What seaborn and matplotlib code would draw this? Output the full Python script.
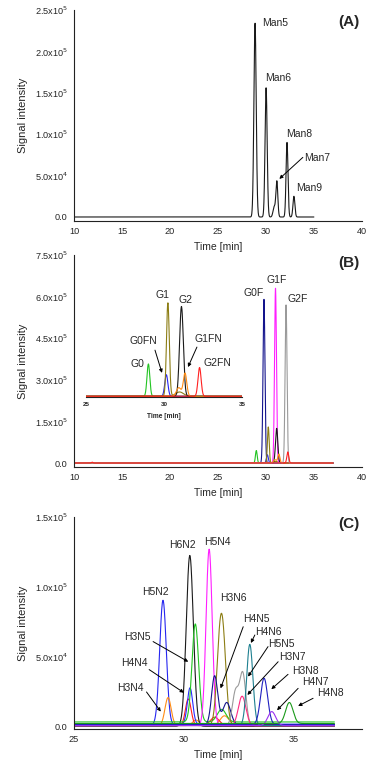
"""
Glycan chromatograms: (A) high-mannose, (B) IgG N-glycans with inset, (C) mixed N-glycans.
Peaks read off the original figure as retention time / height / width tables.
"""
import numpy as np
import pandas as pd
import matplotlib
matplotlib.use("Agg")
import matplotlib.pyplot as plt
import seaborn as sns
from matplotlib.ticker import MultipleLocator

# ─── Panel A: high-mannose (rt [min], height [1e5], sigma [min]) ───
A_rt = [28.87, 30.02, 30.86, 31.14, 32.2, 32.92]
A_height = [2.34, 1.56, 0.12, 0.43, 0.90, 0.25]
A_sigma = [0.12, 0.11, 0.12, 0.1, 0.1, 0.1]
A_span = (10, 35)
A_names = ["Man5", "Man6", "Man8", "Man7", "Man9"]

# ─── Panel B: IgG glycans, one trace per colour ───
B_trace = ["green", "navy", "blue", "olive", "olive", "magenta", "black",
           "orange", "orange", "grey", "red", "red"]
B_rt = [29.0, 29.8, 30.15, 30.25, 31.0, 31.0, 31.12, 30.95, 31.35, 32.1, 32.28, 11.9]
B_height = [0.45, 5.9, 0.30, 1.30, 0.06, 6.3, 1.25, 0.12, 0.32, 5.7, 0.40, 0.03]
B_sigma = [0.09, 0.1, 0.1, 0.09, 0.25, 0.1, 0.12, 0.15, 0.11, 0.1, 0.1, 0.08]
B_span = (10, 37)
B_inset_traces = ["green", "blue", "olive", "black", "orange", "red"]
B_names = ["G0F", "G1F", "G2F"]
B_inset_names = ["G1", "G2", "G0FN", "G0", "G1FN", "G2FN"]

# ─── Panel C: mixed N-glycans ───
C_trace = ["blue", "orange", "orange", "orange", "black", "red", "red", "blue2",
           "green", "green", "magenta", "olive", "olive", "navy", "navy",
           "grey", "grey", "pink", "teal", "blue3", "purple", "green2"]
C_rt = [29.05, 29.28, 30.55, 31.85, 30.27, 30.2, 31.4, 30.28,
        30.52, 31.72, 31.15, 31.62, 31.8, 31.4, 31.95,
        32.35, 32.68, 32.65, 33.0, 33.65, 34.0, 34.8]
C_height = [0.89, 0.20, 0.04, 0.07, 1.22, 0.19, 0.06, 0.26,
            0.70, 0.09, 1.26, 0.49, 0.49, 0.35, 0.16,
            0.24, 0.37, 0.21, 0.58, 0.33, 0.10, 0.15]
C_sigma = [0.15, 0.14, 0.15, 0.2, 0.16, 0.13, 0.2, 0.12,
           0.15, 0.2, 0.14, 0.14, 0.14, 0.14, 0.18,
           0.14, 0.14, 0.17, 0.14, 0.16, 0.18, 0.17]
C_baseline = {"blue": 0.015, "orange": 0.01, "black": 0.005, "red": 0.01,
              "blue2": 0.02, "green": 0.036, "magenta": 0.01, "olive": 0.015,
              "navy": 0.015, "grey": 0.01, "pink": 0.01, "teal": 0.01,
              "blue3": 0.018, "purple": 0.01, "green2": 0.025}
C_span = (25, 36.85)
C_names = ["H5N2", "H6N2", "H5N4", "H3N6", "H4N5", "H4N6", "H5N5", "H3N7",
           "H3N8", "H4N7", "H4N8", "H3N5", "H4N4", "H3N4"]

colors = {"black": "#1a1a1a", "green": "#22c422", "navy": "#14148c", "blue": "#2626f0",
          "olive": "#8c7d14", "magenta": "#ff1eff", "orange": "#ff8c14", "grey": "#9a9a9a",
          "red": "#ff2020", "blue2": "#2a2aff", "pink": "#ff2a80", "teal": "#1e8090",
          "blue3": "#2020c0", "purple": "#9a30f0", "green2": "#1a9a1a"}

LABEL_SIZE = 7.5
YLABEL_SIZE = 8


def build_traces(trace, rt, height, sigma, span, baseline=None, step=0.01):
    """Sum the peak table into one long-form frame of (trace, time, signal)."""
    t = np.arange(span[0], span[1] + step, step)
    frames = []
    for name in dict.fromkeys(trace):
        y = np.full_like(t, (baseline or {}).get(name, 0.0))
        for tr, r, h, s in zip(trace, rt, height, sigma):
            if tr == name:
                y = y + h * np.exp(-0.5 * ((t - r) / s) ** 2)
        frames.append(pd.DataFrame({"trace": name, "time": t, "signal": y * 1e5}))
    return pd.concat(frames, ignore_index=True)


def style_axes(ax, xlim, ylim, xmajor, ymajor, yticklabels):
    ax.set_xlim(*xlim)
    ax.set_ylim(*ylim)
    ax.xaxis.set_major_locator(MultipleLocator(xmajor))
    ax.xaxis.set_minor_locator(MultipleLocator(xmajor / 2))
    ticks = np.arange(0, ylim[1] + 1, ymajor)
    ax.set_yticks(ticks)
    ax.set_yticklabels(yticklabels)
    ax.yaxis.set_minor_locator(MultipleLocator(ymajor / 2))
    ax.tick_params(axis="both", which="major", length=3, width=0.7, pad=1.5, labelsize=6.6)
    ax.tick_params(axis="y", which="minor", length=1.8, width=0.6)
    ax.tick_params(axis="x", which="minor", direction="in", length=2, width=0.6)
    for side in ("top", "right"):
        ax.spines[side].set_visible(False)
    for side in ("left", "bottom"):
        ax.spines[side].set_linewidth(0.8)
        ax.spines[side].set_color("#222222")
    ax.set_xlabel("Time [min]", fontsize=7.5)
    ax.xaxis.set_label_coords(0.5, -0.1)
    ax.set_ylabel("Signal intensity", fontsize=YLABEL_SIZE)
    # right edge of the rotated label, so the centre sits near x = 22 px
    ax.yaxis.set_label_coords(-(52 - YLABEL_SIZE * 0.7) / 288, 0.5)
    ax.grid(False)


def arrow(ax, tail, head):
    ax.annotate("", xy=(head[0], head[1] * 1e5), xytext=(tail[0], tail[1] * 1e5),
                arrowprops=dict(arrowstyle="-|>", color="black", lw=0.7,
                                mutation_scale=5, shrinkA=0, shrinkB=0))


sns.set_theme(style="white")
plt.rcParams["font.family"] = ["Liberation Sans", "DejaVu Sans"]

fig = plt.figure(figsize=(3.7, 7.63), dpi=100)
axA = fig.add_axes([0.2, 0.7104, 0.778, 0.2765])
axB = fig.add_axes([0.2, 0.3879, 0.778, 0.2779])
axC = fig.add_axes([0.2, 0.04456, 0.778, 0.2779])
axI = fig.add_axes([0.2324, 0.4797, 0.4216, 0.1271])

# ─── Panel A ───
dfA = build_traces(["Man"] * len(A_rt), A_rt, A_height, A_sigma, A_span)
sns.lineplot(data=dfA, x="time", y="signal", color=colors["black"], lw=0.8,
             estimator=None, sort=False, legend=False, ax=axA)
style_axes(axA, (10, 40), (-0.048e5, 2.5e5), 5, 0.5e5,
           ["0.0", r"5.0x10$^4$", r"1.0x10$^5$", r"1.5x10$^5$", r"2.0x10$^5$", r"2.5x10$^5$"])
for name, x, y in zip(A_names, [29.6, 29.9, 32.1, 34.0, 33.2], [2.34, 1.68, 1.0, 0.71, 0.35]):
    axA.text(x, y * 1e5, name, fontsize=LABEL_SIZE, ha="left", va="center")
arrow(axA, (33.85, 0.72), (31.4, 0.46))
axA.text(0.955, 0.943, "(A)", transform=axA.transAxes, fontsize=11,
         fontweight="bold", ha="center", va="center")

# ─── Panel B ───
dfB = build_traces(B_trace, B_rt, B_height, B_sigma, B_span)
sns.lineplot(data=dfB, x="time", y="signal", hue="trace", palette=colors, lw=0.8,
             estimator=None, sort=False, legend=False, ax=axB)
style_axes(axB, (10, 40), (-0.144e5, 7.5e5), 5, 1.5e5,
           ["0.0", r"1.5x10$^5$", r"3.0x10$^5$", r"4.5x10$^5$", r"6.0x10$^5$", r"7.5x10$^5$"])
for name, x, y in zip(B_names, [28.75, 31.15, 33.3], [6.13, 6.6, 5.9]):
    axB.text(x, y * 1e5, name, fontsize=LABEL_SIZE, ha="center", va="center")
for name, x, y in zip(B_inset_names, [19.27, 21.67, 17.19, 16.56, 24.06, 24.9],
                      [6.06, 5.88, 4.40, 3.57, 4.47, 3.60]):
    axB.text(x, y * 1e5, name, fontsize=LABEL_SIZE, ha="center", va="center")
arrow(axB, (18.44, 4.07), (19.17, 3.25))
arrow(axB, (22.81, 4.18), (21.88, 3.46))
axB.text(0.955, 0.962, "(B)", transform=axB.transAxes, fontsize=11,
         fontweight="bold", ha="center", va="center")

# inset: minor glycans, 25-35 min
dfI = build_traces(B_trace, B_rt, B_height, B_sigma, (25, 35))
dfI = dfI[dfI["trace"].isin(B_inset_traces)]
sns.lineplot(data=dfI, x="time", y="signal", hue="trace", palette=colors, lw=0.8,
             estimator=None, sort=False, legend=False, ax=axI)
axI.set_xlim(25, 35)
axI.set_ylim(-0.01e5, 1.34e5)
axI.patch.set_alpha(0)
axI.set_yticks([])
axI.xaxis.set_major_locator(MultipleLocator(5))
axI.xaxis.set_minor_locator(MultipleLocator(2.5))
for side in ("top", "right", "left"):
    axI.spines[side].set_visible(False)
axI.spines["bottom"].set_linewidth(0.8)
axI.spines["bottom"].set_color("#222222")
axI.tick_params(axis="x", which="major", length=2.5, width=0.7, pad=1, labelsize=4.5)
axI.tick_params(axis="x", which="minor", direction="in", length=1.8, width=0.6)
for lab in axI.get_xticklabels():
    lab.set_fontweight("bold")
axI.set_xlabel("Time [min]", fontsize=4.8, fontweight="bold")
axI.xaxis.set_label_coords(0.5, -0.17)
axI.set_ylabel("")

# ─── Panel C ───
dfC = build_traces(C_trace, C_rt, C_height, C_sigma, C_span, baseline=C_baseline)
sns.lineplot(data=dfC, x="time", y="signal", hue="trace", palette=colors, lw=0.8,
             estimator=None, sort=False, legend=False, ax=axC)
style_axes(axC, (25, 38.1), (-0.0143e5, 1.5e5), 5, 0.5e5,
           ["0.0", r"5.0x10$^4$", r"1.0x10$^5$", r"1.5x10$^5$"])
C_label_x = [28.72, 29.93, 31.53, 32.27, 33.3, 33.86, 34.44, 34.95, 35.55, 36.0, 36.67,
             27.89, 27.73, 27.55]
C_label_y = [0.966, 1.30, 1.32, 0.92, 0.77, 0.68, 0.59, 0.50, 0.40, 0.32, 0.24,
             0.645, 0.46, 0.276]
for name, x, y in zip(C_names, C_label_x, C_label_y):
    axC.text(x, y * 1e5, name, fontsize=LABEL_SIZE, ha="center", va="center")
C_arrows = [((32.70, 0.716), (31.67, 0.276)),
            ((33.23, 0.657), (33.05, 0.60)),
            ((33.83, 0.574), (32.92, 0.36)),
            ((34.29, 0.466), (32.89, 0.229)),
            ((34.74, 0.376), (33.98, 0.27)),
            ((35.2, 0.276), (34.24, 0.12)),
            ((35.88, 0.205), (35.2, 0.15)),
            ((28.6, 0.61), (30.2, 0.466)),
            ((28.42, 0.41), (30.0, 0.245)),
            ((28.3, 0.25), (28.95, 0.11))]
for tail, head in C_arrows:
    arrow(axC, tail, head)
axC.text(0.955, 0.967, "(C)", transform=axC.transAxes, fontsize=11,
         fontweight="bold", ha="center", va="center")

fig.savefig("out.png", dpi=100)
